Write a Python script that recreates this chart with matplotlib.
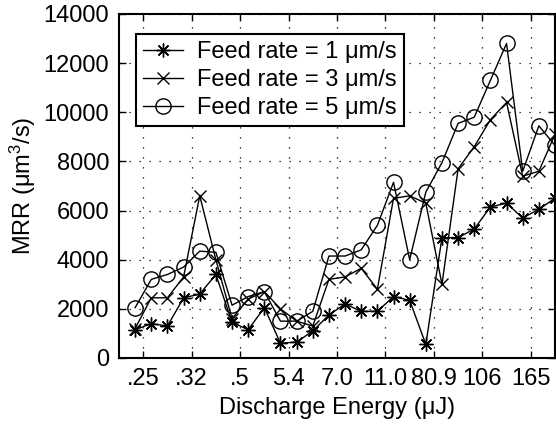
import matplotlib
matplotlib.use("Agg")
import matplotlib.pyplot as plt
import numpy as np

# Data
tick_labels = [".25", ".32", ".5", "5.4", "7.0", "11.0", "80.9", "106", "165"]
mrr_feed1 = [1150, 1400, 1300, 2450, 2600, 3400, 1450, 1150, 2050, 600, 650, 1100,
             1750, 2200, 1900, 1900, 2500, 2350, 550, 4900, 4900, 5250, 6150, 6300,
             5700, 6050, 6500]
mrr_feed3 = [1200, 2450, 2450, 3300, 6600, 4000, 1600, 2400, 2700, 2000, 1500, 1300,
             3200, 3300, 3650, 2800, 6500, 6600, 6300, 3000, 7700, 8600, 9700, 10400,
             7400, 7600, 9100]
mrr_feed5 = [2050, 3200, 3400, 3700, 4350, 4300, 2150, 2500, 2700, 1500, 1500, 1900,
             4150, 4150, 4400, 5400, 7150, 4000, 6750, 7950, 9550, 9800, 11300, 12800,
             7600, 9450, 8650]
labels = ["Feed rate = 1 \u03bcm/s", "Feed rate = 3 \u03bcm/s", "Feed rate = 5 \u03bcm/s"]

plt.rcParams['font.family'] = ['Liberation Sans', 'DejaVu Sans']
plt.rcParams['mathtext.fontset'] = 'custom'
plt.rcParams['mathtext.rm'] = 'Liberation Sans'
plt.rcParams['mathtext.it'] = 'Liberation Sans'
plt.rcParams['font.size'] = 17

fig = plt.figure(figsize=(5.56, 4.25), dpi=100)
ax = fig.add_axes([119/556, 1 - 358/425, (555 - 119)/556, (358 - 14)/425])

n = len(mrr_feed1)
x = np.arange(1, n + 1)

ax.plot(x, mrr_feed1, color='black', lw=1, marker=(8, 2, 0), ms=10, mew=1,
        label=labels[0])
ax.plot(x, mrr_feed3, color='black', lw=1, marker='x', ms=9, mew=1,
        label=labels[1])
ax.plot(x, mrr_feed5, color='black', lw=1, marker='o', ms=11, mew=1,
        fillstyle='none', label=labels[2])

ax.set_xlim(0, n)
ax.set_ylim(0, 14000)
ax.set_yticks(np.arange(0, 14001, 2000))
ax.set_xticks(np.arange(len(tick_labels)) * 3 + 1.5)
ax.set_xticklabels(tick_labels)

ax.grid(True, color='black', linestyle=(0, (1, 7)), linewidth=0.9)
ax.tick_params(direction='in', top=True, right=True, length=5, width=1, pad=7,
               labelsize=17)
for s in ax.spines.values():
    s.set_linewidth(1.5)

ax.set_xlabel("Discharge Energy (\u03bcJ)", fontsize=17, labelpad=5)
ax.set_ylabel("MRR (\u03bcm$^{3}$/s)", fontsize=17, labelpad=4)

leg = ax.legend(loc='upper left', bbox_to_anchor=((136 - 119)/436, 1 - (34 - 14)/344),
                borderaxespad=0, fancybox=False, framealpha=1, edgecolor='black',
                handlelength=1.7, handletextpad=0.6, labelspacing=0.25,
                borderpad=0.3, fontsize=17)
leg.get_frame().set_linewidth(1.5)

fig.savefig("out.png", dpi=100)
